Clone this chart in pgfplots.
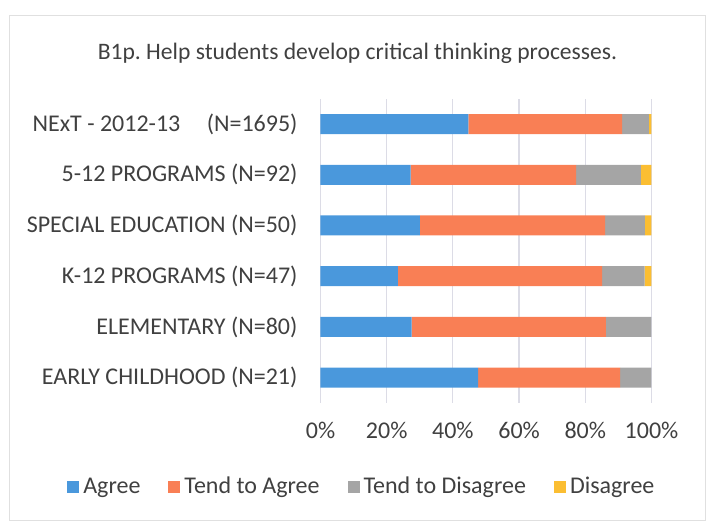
\documentclass[border=0pt]{standalone}
\usepackage{pgfplots}
\pgfplotsset{compat=1.18}
\usepackage{fontspec}
\setmainfont{Carlito}
\definecolor{cAgree}{HTML}{4A98DC}
\definecolor{cTend}{HTML}{F97F55}
\definecolor{cTendDis}{HTML}{A5A5A5}
\definecolor{cDis}{HTML}{FBBE32}
\definecolor{cGrid}{HTML}{DCDCE6}
\definecolor{cText}{HTML}{404040}
\begin{document}
\frenchspacing
\begin{tikzpicture}[x=1pt,y=1pt]
% one image pixel = 0.5pt
\useasboundingbox (0,0) rectangle (354.5,261.5);
\draw[black!12] (4.5,1.5) rectangle (352.5,254);
\node[anchor=base, font=\fontsize{11.8}{13}\selectfont, text=cText]
  at (178.75,231.5) {B1p. Help students develop critical thinking processes.};
\begin{axis}[
    at={(160.25pt,60pt)}, anchor=south west,
    scale only axis, width=165.5pt, height=152.15pt,
    xbar stacked, bar width=10pt,
    xmin=0, xmax=100, ymin=-0.5, ymax=5.5,
    xtick={0,20,40,60,80,100},
    xticklabel={\pgfmathprintnumber{\tick}\%},
    ytick={0,1,2,3,4,5},
    yticklabels={EARLY CHILDHOOD (N=21), ELEMENTARY (N=80), K-12 PROGRAMS (N=47),
      SPECIAL EDUCATION (N=50), 5-12 PROGRAMS (N=92), {NExT - 2012-13\hspace{1.1em}(N=1695)}},
    /pgf/number format/assume math mode=true,
    tick label style={font=\fontsize{12}{13}\selectfont, text=cText},
    yticklabel style={xshift=-8pt},
    xticklabel style={yshift=-6pt},
    xmajorgrids, major grid style={cGrid, line width=0.6pt},
    axis line style={draw=none},
    tick style={draw=none},
    legend style={at={(axis description cs:0.128,-0.276)}, anchor=center,
      draw=none, fill=none, font=\fontsize{12}{13}\selectfont, text=cText,
      /tikz/every even column/.append style={column sep=12pt}},
    legend columns=4,
    legend image code/.code={\fill[#1] (0pt,-3pt) rectangle (6pt,3pt);},
]
\addplot[fill=cAgree, draw=none] coordinates {
  (47.6,0) (27.5,1) (23.4,2) (30.0,3) (27.2,4) (44.7,5)};
\addplot[fill=cTend, draw=none] coordinates {
  (42.9,0) (58.75,1) (61.7,2) (56.0,3) (50.0,4) (46.4,5)};
\addplot[fill=cTendDis, draw=none] coordinates {
  (9.5,0) (13.75,1) (12.8,2) (12.0,3) (19.6,4) (8.1,5)};
\addplot[fill=cDis, draw=none] coordinates {
  (0,0) (0,1) (2.1,2) (2.0,3) (3.2,4) (0.8,5)};
\legend{Agree, Tend to Agree, Tend to Disagree, Disagree}
\end{axis}
\end{tikzpicture}
\end{document}
